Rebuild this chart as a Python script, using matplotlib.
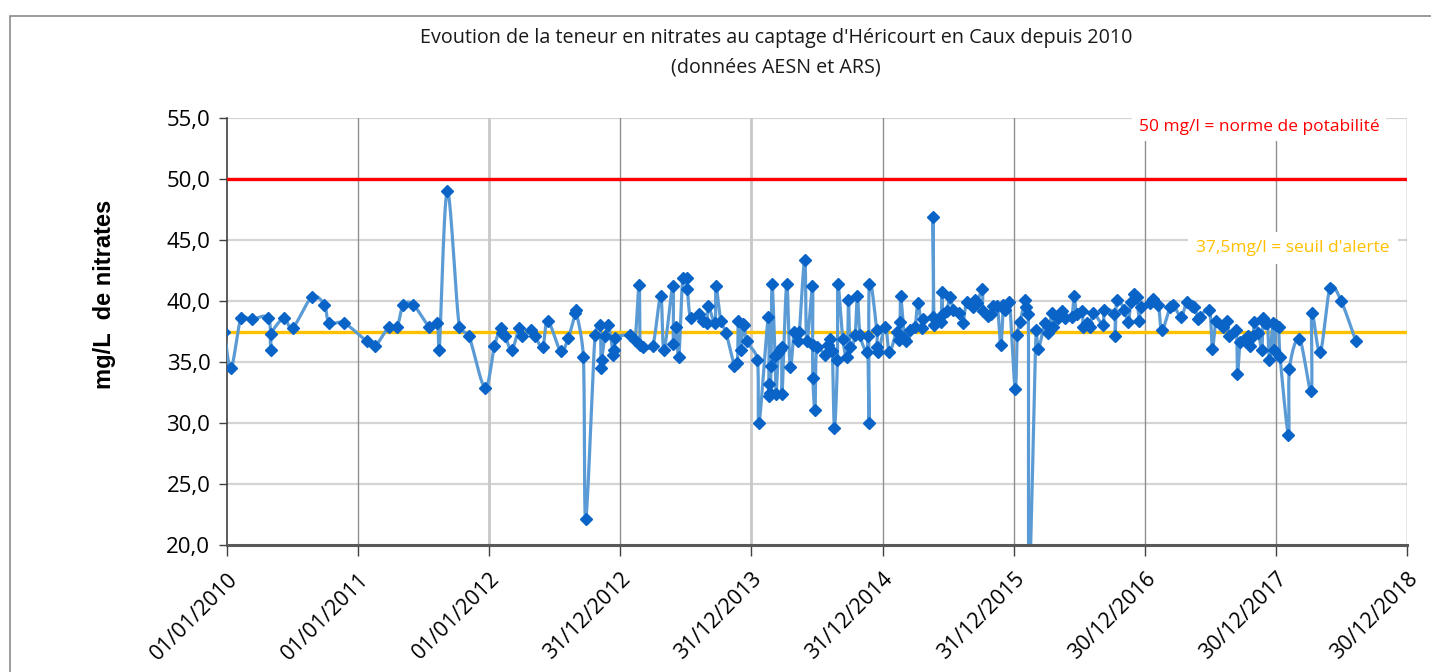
import numpy as np
import pandas as pd
import matplotlib
matplotlib.use("Agg")
import matplotlib.pyplot as plt
import matplotlib.dates as mdates
from matplotlib.ticker import FuncFormatter, MultipleLocator
from matplotlib.patches import Rectangle

# ---- data (position in 365-day "years" since 01/01/2010, nitrate mg/L) ----
years = [
    2009.980, 2010.031, 2010.107, 2010.188, 2010.315, 2010.336, 2010.337, 2010.435, 2010.501,
    2010.646, 2010.742, 2010.780, 2010.892, 2011.066, 2011.129, 2011.236, 2011.297, 2011.345,
    2011.421, 2011.543, 2011.604, 2011.619, 2011.680, 2011.772, 2011.846, 2011.968, 2012.039,
    2012.088, 2012.096, 2012.121, 2012.172, 2012.230, 2012.253, 2012.317, 2012.352, 2012.408,
    2012.446, 2012.545, 2012.603, 2012.657, 2012.660, 2012.718, 2012.736, 2012.807, 2012.845,
    2012.853, 2012.858, 2012.883, 2012.909, 2012.947, 2012.955, 2012.960, 2013.074, 2013.112,
    2013.143, 2013.151, 2013.171, 2013.247, 2013.308, 2013.333, 2013.400, 2013.404, 2013.425,
    2013.446, 2013.476, 2013.507, 2013.511, 2013.537, 2013.603, 2013.633, 2013.659, 2013.671,
    2013.722, 2013.730, 2013.766, 2013.806, 2013.870, 2013.893, 2013.900, 2013.918, 2013.934,
    2013.944, 2013.964, 2014.045, 2014.058, 2014.129, 2014.132, 2014.134, 2014.142, 2014.150,
    2014.157, 2014.180, 2014.188, 2014.205, 2014.218, 2014.231, 2014.234, 2014.269, 2014.295,
    2014.327, 2014.358, 2014.366, 2014.407, 2014.422, 2014.465, 2014.466, 2014.468, 2014.485,
    2014.498, 2014.562, 2014.582, 2014.600, 2014.617, 2014.633, 2014.656, 2014.659, 2014.697,
    2014.730, 2014.740, 2014.752, 2014.790, 2014.808, 2014.829, 2014.880, 2014.887, 2014.897,
    2014.899, 2014.956, 2014.958, 2014.968, 2015.022, 2015.052, 2015.108, 2015.128, 2015.134,
    2015.139, 2015.166, 2015.179, 2015.210, 2015.248, 2015.269, 2015.301, 2015.311, 2015.383,
    2015.385, 2015.395, 2015.444, 2015.452, 2015.460, 2015.490, 2015.515, 2015.540, 2015.586,
    2015.612, 2015.642, 2015.688, 2015.706, 2015.719, 2015.762, 2015.765, 2015.807, 2015.826,
    2015.845, 2015.876, 2015.902, 2015.922, 2015.935, 2015.968, 2016.011, 2016.028, 2016.049,
    2016.089, 2016.093, 2016.112, 2016.118, 2016.171, 2016.189, 2016.240, 2016.265, 2016.291,
    2016.303, 2016.341, 2016.367, 2016.392, 2016.443, 2016.461, 2016.481, 2016.520, 2016.532,
    2016.558, 2016.583, 2016.608, 2016.684, 2016.690, 2016.768, 2016.774, 2016.787, 2016.842,
    2016.875, 2016.893, 2016.919, 2016.939, 2016.959, 2016.972, 2017.041, 2017.066, 2017.104,
    2017.130, 2017.193, 2017.218, 2017.277, 2017.320, 2017.359, 2017.379, 2017.409, 2017.422,
    2017.493, 2017.516, 2017.544, 2017.600, 2017.626, 2017.646, 2017.697, 2017.707, 2017.727,
    2017.753, 2017.791, 2017.799, 2017.829, 2017.834, 2017.867, 2017.893, 2017.901, 2017.918,
    2017.936, 2017.951, 2017.977, 2017.982, 2018.002, 2018.020, 2018.032, 2018.096, 2018.103,
    2018.180, 2018.269, 2018.274, 2018.338, 2018.414, 2018.498, 2018.610,
]
nitrates = [
    37.5, 34.5, 38.6, 38.5, 38.6, 36.0, 37.3, 38.6, 37.8,
    40.3, 39.7, 38.2, 38.2, 36.7, 36.3, 37.9, 37.9, 39.7,
    39.7, 37.9, 38.2, 36.0, 49.0, 37.9, 37.1, 32.9, 36.3,
    37.8, 37.4, 37.1, 36.0, 37.8, 37.1, 37.6, 37.1, 36.2,
    38.4, 35.9, 37.0, 39.0, 39.3, 35.4, 22.1, 37.2, 38.0,
    34.5, 35.2, 37.1, 38.0, 35.6, 36.0, 37.0, 37.2, 36.8,
    41.3, 36.4, 36.2, 36.3, 40.4, 36.0, 41.2, 36.5, 37.9,
    35.4, 41.9, 41.9, 41.0, 38.6, 38.9, 38.4, 38.2, 39.6,
    38.2, 41.2, 38.4, 37.4, 34.7, 34.9, 38.4, 36.0, 38.1,
    38.0, 36.7, 35.2, 30.0, 38.7, 33.2, 32.2, 32.5, 34.7,
    41.4, 35.5, 32.4, 35.7, 36.0, 36.2, 32.4, 41.4, 34.6,
    37.5, 36.7, 37.5, 43.4, 36.7, 41.2, 36.4, 33.7, 31.1,
    36.2, 35.6, 36.4, 36.9, 35.9, 29.6, 35.2, 41.4, 36.9,
    35.4, 40.1, 36.2, 37.2, 40.4, 37.2, 35.8, 37.1, 30.0,
    41.4, 37.6, 36.2, 35.8, 37.9, 35.8, 37.5, 36.8, 38.3,
    40.4, 37.0, 36.7, 37.6, 37.9, 39.8, 37.8, 38.5, 38.7,
    46.9, 38.0, 38.3, 40.7, 38.9, 39.2, 40.3, 39.3, 39.0,
    38.2, 39.9, 39.5, 40.1, 39.8, 41.0, 39.2, 38.8, 38.9,
    39.6, 39.6, 36.4, 39.7, 39.3, 39.9, 32.8, 37.2, 38.3,
    40.1, 39.5, 38.9, 17.0, 37.6, 36.1, 38.2, 37.4, 39.0,
    37.9, 38.6, 39.2, 38.6, 38.7, 40.4, 38.9, 39.2, 37.9,
    38.2, 37.9, 39.0, 38.0, 39.3, 38.9, 37.1, 40.1, 39.3,
    38.3, 39.9, 40.6, 40.3, 38.4, 39.5, 39.8, 40.2, 39.7,
    37.6, 39.5, 39.7, 38.7, 39.9, 39.6, 39.5, 38.5, 38.7,
    39.3, 36.1, 38.4, 37.9, 38.4, 37.1, 37.6, 34.0, 36.6,
    36.8, 37.1, 36.3, 37.1, 38.3, 37.4, 36.0, 38.6, 38.2,
    38.2, 35.2, 38.2, 36.0, 38.0, 37.9, 35.4, 29.0, 34.4,
    36.9, 32.6, 39.0, 35.8, 41.1, 40.0, 36.7,
]
norme_potabilite = 50.0
seuil_alerte = 37.5
tick_labels = ["01/01/2010", "01/01/2011", "01/01/2012", "31/12/2012", "31/12/2013",
               "31/12/2014", "31/12/2015", "30/12/2016", "30/12/2017", "30/12/2018"]
title = "Evoution de la teneur en nitrates au captage d'Héricourt en Caux depuis 2010\n(données AESN et ARS)"
ylabel = "mg/L  de nitrates"
label_norme = "50 mg/l = norme de potabilité"
label_seuil = "37,5mg/l = seuil d'alerte"

# ---- build dates ----
base = pd.Timestamp("2010-01-01")
dates = [base + pd.Timedelta(days=(y - 2010.0) * 365.0) for y in years]
xd = mdates.date2num(dates)
yv = np.array(nitrates, dtype=float)
tick_dates = pd.to_datetime(tick_labels, format="%d/%m/%Y")
xt = mdates.date2num(tick_dates)

YMIN, YMAX = 20, 55
AX_W_PX, AX_H_PX = 1180, 427

# Excel-like smoothed line (Bezier with Catmull-Rom handles, clamped to avoid loops)
def smooth(x, y, x0, x1, n=14):
    sx = AX_W_PX / (x1 - x0)
    sy = AX_H_PX / (YMAX - YMIN)
    P = np.column_stack([(x - x0) * sx, (y - YMIN) * sy])
    N = len(P)
    T = np.zeros_like(P)
    for i in range(N):
        a = P[max(i - 1, 0)]
        b = P[min(i + 1, N - 1)]
        T[i] = (b - a) / 6.0
    out = []
    t = np.linspace(0, 1, n, endpoint=False)[:, None]
    for i in range(N - 1):
        p1, p2 = P[i], P[i + 1]
        L = np.linalg.norm(p2 - p1)
        h1, h2 = T[i].copy(), T[i + 1].copy()
        for h in (h1, h2):
            m = np.linalg.norm(h)
            lim = 0.45 * L
            if m > lim and m > 0:
                h *= lim / m
        b1 = p1 + h1
        b2 = p2 - h2
        seg = ((1 - t) ** 3) * p1 + 3 * ((1 - t) ** 2) * t * b1 + 3 * (1 - t) * t ** 2 * b2 + t ** 3 * p2
        out.append(seg)
    out.append(P[-1][None, :])
    C = np.vstack(out)
    return C[:, 0] / sx + x0, C[:, 1] / sy + YMIN

cx, cy = smooth(xd, yv, xt[0], xt[-1])

# ---- figure ----
plt.rcParams["font.family"] = ["Open Sans", "DejaVu Sans"]
fig = plt.figure(figsize=(14.31, 6.72), dpi=100)
fig.patch.set_facecolor("white")

# outer chart frame
fig.add_artist(Rectangle((10 / 1431, -0.05), 1.2, 1 - 16 / 672 + 0.05, transform=fig.transFigure,
                         fill=False, edgecolor="#8a8a8a", lw=1.2))

ax = fig.add_axes([227 / 1431, 1 - 545 / 672, AX_W_PX / 1431, AX_H_PX / 672])
ax.set_xlim(xt[0], xt[-1])
ax.set_ylim(YMIN, YMAX)

# grid
for v in np.arange(25, 56, 5):
    ax.axhline(v, color="#d4d4d4", lw=1.6, zorder=1)
for i, xv in enumerate(xt[1:], start=1):
    if i in (2, 4):
        ax.axvline(xv, color="#c8c8c8", lw=2.0, zorder=1)
    else:
        ax.axvline(xv, color="#8f8f8f", lw=1.0, zorder=1)

# reference lines
ax.axhline(norme_potabilite, color="#ff0000", lw=2.4, zorder=3)
ax.axhline(seuil_alerte, color="#ffc000", lw=2.4, zorder=3)

# data
ax.plot(cx, cy, color="#5b9bd5", lw=2.3, zorder=4, solid_joinstyle="round")
ax.plot(xd, yv, linestyle="none", marker="D", ms=5.8, color="#0a64c8",
        markeredgecolor="#0a64c8", zorder=5)

# annotations
ax.text(mdates.date2num(pd.Timestamp("2017-11-13")), 54.3, label_norme, color="#ff0000",
        fontsize=12.5, ha="center", va="center", zorder=6,
        bbox=dict(facecolor="white", edgecolor="none", pad=5))
ax.text(mdates.date2num(pd.Timestamp("2018-02-16")), 44.35, label_seuil, color="#ffc000",
        fontsize=12.5, ha="center", va="center", zorder=6,
        bbox=dict(facecolor="white", edgecolor="none", pad=6))

# axes styling
for s in ["top", "right"]:
    ax.spines[s].set_visible(False)
ax.spines["left"].set_color("#404040")
ax.spines["left"].set_linewidth(1.2)
ax.spines["bottom"].set_color("#595959")
ax.spines["bottom"].set_linewidth(2.2)
ax.spines["bottom"].set_zorder(6)

ax.yaxis.set_major_locator(MultipleLocator(5))
ax.yaxis.set_major_formatter(FuncFormatter(lambda v, p: f"{v:.1f}".replace(".", ",")))
ax.tick_params(axis="y", length=6, width=1.0, color="#404040", labelsize=16, pad=6)
ax.set_xticks(xt)
ax.set_xticklabels(tick_labels, rotation=45, ha="right", rotation_mode="anchor")
ax.tick_params(axis="x", length=8, width=1.0, color="#404040", labelsize=15.5, pad=9)

fig.text(105 / 1431, 1 - 294 / 672, ylabel, rotation=90, ha="center", va="center",
         fontsize=17, fontweight="bold", family=["Liberation Sans", "DejaVu Sans"])

fig.text(776 / 1431, 1 - 53 / 672, title, ha="center", va="center", fontsize=14.2,
         linespacing=1.6, color="#1a1a1a")

fig.savefig("out.png", dpi=100)
